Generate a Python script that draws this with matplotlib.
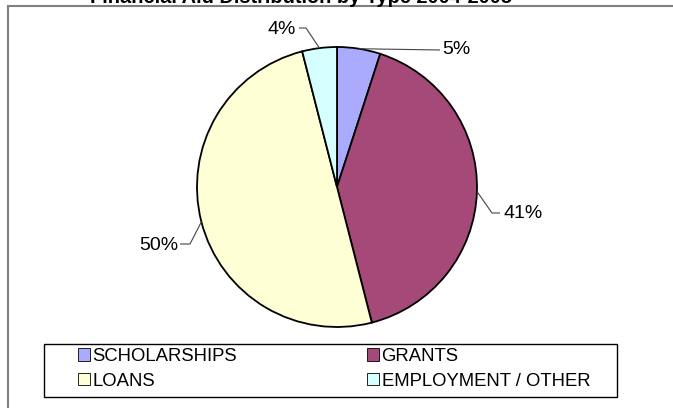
import matplotlib
matplotlib.use("Agg")
import matplotlib.pyplot as plt
from matplotlib.patches import Rectangle, Patch
import numpy as np

plt.rcParams['font.family'] = ['Liberation Sans', 'DejaVu Sans']

# ---- data ----
categories = ["SCHOLARSHIPS", "GRANTS", "LOANS", "EMPLOYMENT / OTHER"]
values = [5, 41, 50, 4]
title = "Financial Aid Distribution by Type 2004-2005"

# ---- style ----
colors = ["#AAAAFF", "#A54A78", "#FFFFD6", "#D6FFFF"]
W, H = 673, 408
def Y(y):
    return H - y

# label placement (pixels, top-origin): text pos, ha, elbow, line end
label_style = [
    dict(text=(442, 50), ha="left", elbow=None, end=(440, 50)),
    dict(text=(503, 213), ha="left", elbow=(492, 213), end=(500, 213)),
    dict(text=(178, 245), ha="right", elbow=(190, 244), end=(180, 244)),
    dict(text=(296, 29), ha="right", elbow=(306, 28), end=(299, 28)),
]

fig = plt.figure(figsize=(W / 100, H / 100), dpi=100)
ax = fig.add_axes([0, 0, 1, 1])

center = (337, Y(187))
radius = 140
wedges, _ = ax.pie(values, colors=colors, startangle=90, counterclock=False,
                   center=center, radius=radius, frame=True,
                   wedgeprops=dict(edgecolor="black", linewidth=1.3))
ax.set_xlim(0, W)
ax.set_ylim(0, H)
ax.set_aspect("equal")
ax.axis("off")

total = sum(values)
for w, v, st in zip(wedges, values, label_style):
    th = np.deg2rad((w.theta1 + w.theta2) / 2)
    ax_pt = (center[0] + radius * np.cos(th), center[1] + radius * np.sin(th))
    pts = [ax_pt]
    if st["elbow"] is not None:
        pts.append((st["elbow"][0], Y(st["elbow"][1])))
    pts.append((st["end"][0], Y(st["end"][1])))
    xs, ys = zip(*pts)
    ax.plot(xs, ys, color="#444444", lw=0.8, solid_capstyle="butt")
    ax.text(st["text"][0], Y(st["text"][1]), f"{v / total * 100:.0f}%",
            ha=st["ha"], va="center", fontsize=14, color="black")

# chart-area frame (top and left visible)
ax.add_patch(Rectangle((8, -20), 700, Y(6) + 20, fill=False,
                       edgecolor="#808080", lw=1.5, clip_on=False))

# title, mostly cut off at the top
ax.text(301, Y(3), title, ha="center", va="baseline", fontsize=14.4,
        fontweight="bold", clip_on=False)

# legend box
ax.add_patch(Rectangle((44, Y(397)), 573, 53, fill=False,
                       edgecolor="black", lw=1.0))
handles = [Patch(facecolor=c, edgecolor="black", lw=0.6) for c in colors]
order = [0, 2, 1, 3]
ax.legend([handles[i] for i in order], [categories[i] for i in order],
          ncol=2, loc="upper left", bbox_to_anchor=(77.7, Y(348)),
          bbox_transform=ax.transData, frameon=False, fontsize=13.3,
          borderpad=0, borderaxespad=0, handlelength=0.66, handleheight=0.66,
          handletextpad=0.15, columnspacing=7.0, labelspacing=0.42)

fig.savefig("out.png", dpi=100)
